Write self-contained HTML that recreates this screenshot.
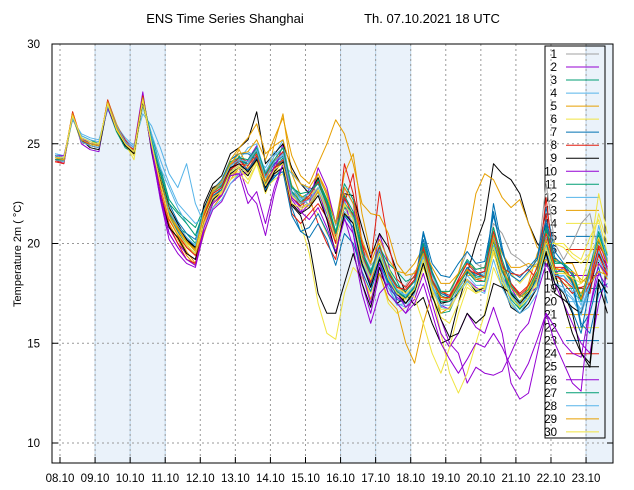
<!DOCTYPE html>
<html><head><meta charset="utf-8"><style>
html,body{margin:0;padding:0;background:#fff;}
svg{display:block;font-family:"Liberation Sans",sans-serif;}
</style></head><body>
<svg id="chart" width="634" height="490" viewBox="0 0 634 490" xmlns="http://www.w3.org/2000/svg">
<text x="225" y="23" font-size="13" text-anchor="middle">ENS Time Series Shanghai</text>
<text x="432" y="23" font-size="13" text-anchor="middle">Th. 07.10.2021 18 UTC</text>
<text transform="translate(21,254) rotate(-90)" font-size="11" text-anchor="middle">Temperature 2m ( °C)</text>
<g id="bg"></g><g id="grid"></g><g id="legend"></g><g id="lines"></g><g id="axes"></g>
</svg>
<script>
const dayLabels=["08.10","09.10","10.10","11.10","12.10","13.10","14.10","15.10","16.10","17.10","18.10","19.10","20.10","21.10","22.10","23.10"];
const yTicks=[10,15,20,25,30];
const shaded=[[1,3],[8,10],[15,15.77]];
const firstColor="#a0a0a0";
const colors=["#9400d3","#009e73","#56b4e9","#e69f00","#f0e442","#0072b2","#e51e10","#000000"];
const m1=[24.4,24.1,26.3,25.3,25.1,25.0,26.9,25.7,24.9,24.5,27.1,25.2,23.4,21.8,21.0,20.3,19.9,21.2,22.8,23.1,24.0,24.3,23.5,24.8,23.6,24.2,24.0,22.8,22.4,21.9,23.3,22.5,20.9,21.8,21.0,19.8,18.9,19.4,18.2,17.5,17.9,18.6,19.0,17.6,16.8,17.4,18.5,19.6,19.0,18.7,21.0,20.5,19.5,19.2,18.8,19.0,23.0,20.0,19.2,20.0,21.0,21.5,19.5,18.8];
const m2=[24.2,24.0,26.5,25.0,24.7,24.6,27.1,25.9,25.2,24.8,27.6,24.6,22.3,20.5,19.8,19.2,19.0,21.0,22.0,22.5,23.5,23.5,24.2,24.9,22.8,23.6,25.0,22.0,21.5,22.8,22.6,21.6,20.0,22.8,22.0,19.0,18.0,20.5,19.0,17.0,16.5,17.5,19.9,17.5,16.2,15.0,14.5,13.0,13.8,13.5,13.4,13.6,14.5,15.5,16.0,17.5,19.0,18.0,17.0,16.0,15.0,14.5,17.0,18.5];
const m3=[24.3,24.3,26.3,25.4,25.2,25.0,26.8,25.6,24.8,24.5,27.0,25.5,23.8,22.2,21.6,21.2,20.8,21.8,22.3,22.6,23.6,24.4,23.6,24.3,23.4,23.8,24.1,22.9,22.3,22.5,23.2,22.2,20.6,21.8,21.5,19.6,18.3,19.5,18.8,18.1,17.2,17.7,19.2,17.3,16.5,16.6,17.6,18.2,17.6,17.8,20.3,18.8,17.2,16.7,17.5,18.9,20.7,18.6,18.0,17.5,17.2,18.8,20.5,19.2];
const m4=[24.5,24.4,26.2,25.5,25.3,25.2,26.7,25.9,25.3,24.9,26.5,25.9,24.8,23.5,22.8,24.0,22.0,21.0,22.1,22.9,23.9,24.2,24.8,25.0,23.4,24.4,25.2,22.6,22.3,21.9,22.7,21.8,20.3,21.6,21.0,19.0,18.2,19.2,17.8,16.9,17.0,17.5,19.6,18.4,17.4,17.2,17.9,18.8,18.3,18.5,20.5,18.9,17.6,16.9,17.9,18.6,20.3,18.2,18.4,17.6,16.5,18.0,20.5,19.5];
const m5=[24.2,24.2,26.6,25.1,24.9,24.8,27.2,26.0,25.1,24.4,27.4,24.8,22.6,21.0,20.2,19.4,18.9,21.2,22.6,23.0,23.9,24.7,23.8,24.2,23.0,25.0,26.5,23.5,22.4,22.2,23.5,22.6,21.0,23.5,24.5,21.5,19.5,20.0,18.4,17.7,17.0,17.5,19.2,17.9,16.5,16.8,17.8,18.4,18.4,18.6,20.8,19.0,17.5,16.8,18.0,19.5,20.6,18.8,18.6,18.0,17.5,18.3,19.8,18.5];
const m6=[24.3,24.3,26.4,25.3,25.0,25.0,27.0,25.7,25.0,24.2,27.2,24.9,22.8,21.5,20.8,20.0,19.8,21.6,22.4,22.5,23.5,23.6,23.4,24.2,22.8,23.5,23.6,21.5,21.0,19.5,17.0,15.5,15.2,17.5,18.8,18.3,17.5,18.5,17.0,16.5,16.8,17.2,18.8,17.6,15.5,13.5,12.5,13.5,15.0,16.5,18.8,17.8,17.0,16.5,17.0,18.0,19.5,18.2,18.0,17.8,18.0,19.5,22.5,20.5];
const m7=[24.4,24.2,26.4,25.2,25.0,24.9,27.0,25.8,24.9,24.6,27.3,25.0,23.2,21.5,20.8,20.3,19.8,21.5,22.6,22.9,23.8,24.1,24.0,24.6,23.3,24.0,24.4,22.6,21.8,22.0,22.7,21.5,20.2,21.9,21.3,19.2,18.2,19.5,18.1,17.4,17.3,17.8,20.5,18.6,17.6,17.3,18.2,19.1,18.6,18.3,22.0,19.8,18.0,17.4,17.2,17.8,21.0,18.8,17.8,16.6,15.5,17.8,18.8,17.0];
const m8=[24.1,24.1,26.5,25.1,25.0,24.9,27.1,25.8,25.0,24.7,27.4,25.1,22.9,21.3,20.4,19.8,19.5,21.3,22.3,22.7,23.7,24.0,23.9,24.5,23.1,23.8,24.0,22.3,21.9,22.3,21.0,20.0,19.2,22.0,23.5,20.0,18.0,19.7,18.5,17.8,17.6,18.2,19.7,18.2,17.2,17.1,17.9,18.6,18.2,18.1,19.5,18.6,18.0,17.4,17.8,18.2,21.5,18.4,18.2,17.8,17.8,17.5,19.8,18.7];
const m9=[24.3,24.2,26.3,25.2,24.8,24.7,26.9,25.7,25.0,24.6,27.1,25.2,23.5,21.8,21.0,20.2,19.7,22.0,23.0,23.4,24.5,24.8,25.2,26.6,24.0,24.5,25.0,23.8,23.0,22.5,23.3,21.8,20.3,22.5,22.4,20.8,19.3,20.5,19.8,18.6,17.5,16.9,17.3,16.0,15.0,15.2,17.0,18.5,20.0,21.2,24.0,23.5,23.2,22.5,21.0,20.0,19.5,18.5,17.0,15.5,14.5,13.8,18.0,16.5];
const m10=[24.4,24.3,26.4,25.3,25.1,25.0,26.8,25.7,25.0,24.5,27.5,24.9,22.5,20.8,20.0,19.5,19.2,21.0,22.1,22.4,23.4,23.8,22.5,22.0,20.4,22.5,24.0,22.0,21.5,22.0,23.8,22.8,21.0,22.2,20.5,18.0,16.5,18.5,17.8,17.3,17.0,17.6,19.3,17.8,16.9,16.7,17.5,18.2,17.8,17.6,19.8,18.3,17.8,17.0,17.5,17.8,20.2,18.5,18.8,18.5,17.2,18.4,20.2,18.8];
const m11=[24.2,24.2,26.4,25.2,25.0,24.9,27.0,25.8,25.0,24.6,27.3,25.0,23.0,21.5,20.8,20.5,20.0,21.5,22.4,22.7,23.6,23.9,23.7,24.3,23.0,23.8,24.3,22.4,22.1,22.4,23.2,22.2,21.0,23.0,22.2,19.7,18.3,19.8,19.0,18.6,18.1,18.3,19.6,18.2,17.4,17.2,17.9,18.8,18.3,18.4,20.2,19.0,17.5,16.7,17.2,18.5,20.6,19.1,19.0,18.6,17.3,18.6,20.4,19.2];
const m12=[24.5,24.4,26.2,25.4,25.2,25.1,26.9,25.9,25.2,24.8,26.8,25.5,24.2,23.0,22.0,21.5,21.0,21.3,22.5,23.0,24.2,24.5,24.6,24.3,23.8,24.6,24.0,23.5,23.0,22.7,22.5,21.6,20.5,21.5,20.8,19.6,18.7,19.4,17.8,17.0,16.8,17.5,19.0,17.9,17.0,17.1,17.9,18.6,18.2,18.4,20.3,18.2,17.1,16.5,16.8,17.5,19.8,18.0,17.8,17.3,16.7,18.0,19.2,18.3];
const m13=[24.3,24.3,26.5,25.2,25.0,24.9,27.1,25.8,25.1,24.6,27.3,25.0,23.1,21.2,20.4,19.6,19.0,20.5,21.8,22.4,23.2,23.8,24.0,24.6,23.1,24.2,24.8,22.9,22.0,21.8,22.6,21.7,20.1,22.5,21.2,18.5,17.2,18.5,17.2,16.7,15.0,14.0,16.0,17.5,17.5,17.6,18.5,20.0,22.5,23.5,23.2,22.3,21.8,22.2,21.0,19.8,19.5,19.2,19.0,19.0,18.0,18.5,19.0,18.2];
const m14=[24.2,24.1,26.3,25.1,24.9,25.0,26.9,25.9,25.0,24.5,27.1,25.2,23.3,21.7,20.7,20.0,19.4,21.3,22.2,22.5,23.2,23.5,23.0,24.0,22.5,23.6,23.8,22.0,21.7,22.0,21.5,20.5,19.8,21.5,21.3,19.3,18.4,19.6,18.8,17.8,17.5,17.9,19.0,17.5,16.3,16.0,17.0,18.0,17.5,17.9,19.5,18.7,18.5,18.0,18.5,19.0,20.5,20.0,19.8,19.3,19.0,19.5,20.3,19.0];
const m15=[24.4,24.3,26.4,25.3,25.1,25.0,27.0,25.7,25.0,24.7,27.2,25.3,23.6,22.0,21.1,20.5,20.2,21.8,22.7,23.2,24.2,24.5,24.5,24.2,22.8,23.3,23.8,21.8,20.6,20.3,21.0,20.2,18.9,20.5,20.0,18.6,17.6,19.0,18.0,17.2,17.0,17.7,20.2,18.6,17.5,17.3,18.0,18.8,18.4,18.6,21.6,19.5,18.6,18.3,18.8,19.3,21.8,19.6,19.0,18.0,15.8,16.5,18.2,17.5];
const m16=[24.1,24.0,26.6,25.2,24.9,24.8,27.2,25.9,25.2,24.6,27.4,24.8,22.6,20.9,20.0,19.2,19.0,21.0,22.5,22.8,23.7,24.2,23.7,24.4,22.9,23.8,24.2,21.5,21.0,21.5,22.0,21.3,20.0,24.0,22.5,20.0,19.0,22.6,20.0,18.2,17.8,18.4,19.8,18.5,17.6,17.4,18.1,18.7,18.5,18.3,19.6,18.8,18.5,18.4,18.7,18.2,22.3,18.5,18.0,17.5,17.8,18.0,19.9,19.2];
const m17=[24.3,24.2,26.4,25.1,24.9,24.8,27.0,25.8,25.0,24.6,27.3,24.7,22.4,20.8,20.3,19.5,19.2,21.3,22.2,22.6,23.5,23.8,23.4,24.2,22.6,23.6,24.1,21.9,21.4,20.0,17.5,16.5,16.5,18.0,19.5,18.0,16.8,18.8,17.5,17.0,17.3,17.6,19.0,17.8,17.0,17.1,17.5,18.2,17.6,17.8,19.8,18.0,16.8,16.5,17.0,17.8,19.6,17.5,17.2,16.8,16.5,17.8,19.5,18.6];
const m18=[24.4,24.4,26.3,25.3,25.0,25.0,26.9,25.8,25.1,24.6,27.2,24.8,22.2,20.2,19.5,19.0,18.8,20.6,21.7,22.1,23.0,23.4,23.6,24.2,22.7,23.9,24.6,22.3,21.8,22.0,22.8,21.2,19.5,21.3,19.8,17.5,16.0,17.5,18.0,17.5,16.8,17.2,18.5,17.0,15.5,14.8,15.5,16.5,15.8,15.5,16.8,15.5,13.0,12.2,12.5,14.5,16.5,15.8,15.0,14.5,14.3,16.8,19.0,18.4];
const m19=[24.3,24.2,26.4,25.2,25.0,24.9,27.0,25.8,25.0,24.6,27.3,25.0,23.0,21.4,20.7,20.1,19.7,21.6,22.6,22.9,23.9,24.2,24.0,24.6,23.3,24.1,24.6,22.6,22.1,22.4,23.1,22.1,20.6,22.4,21.6,19.6,18.6,19.9,18.6,17.9,17.6,18.1,19.6,18.1,17.1,17.1,17.9,18.6,18.1,18.1,20.1,18.6,17.6,17.1,17.6,18.4,20.1,18.6,18.6,18.1,17.1,18.6,20.1,19.1];
const m20=[24.2,24.1,26.5,25.1,24.9,24.8,27.1,25.9,25.1,24.7,27.0,25.3,23.8,22.8,21.8,21.0,20.4,20.8,21.8,22.2,23.0,23.5,24.0,24.8,23.6,24.4,24.8,22.8,22.2,22.5,23.0,21.9,20.4,22.1,21.2,19.2,18.3,19.6,18.3,17.6,17.4,17.9,19.3,17.8,16.8,16.7,17.5,18.1,17.7,17.5,19.2,17.8,16.9,16.5,17.2,17.8,19.4,18.0,17.6,17.2,16.4,17.9,19.6,18.6];
const m21=[24.4,24.3,26.4,25.3,25.1,25.0,27.0,25.7,25.0,24.6,27.2,25.0,23.2,21.6,20.8,20.1,19.6,21.5,22.6,23.0,24.2,24.8,25.3,26.0,24.5,24.9,25.2,23.6,23.0,22.8,23.5,22.4,21.0,22.8,22.0,20.2,19.0,20.2,19.2,18.6,18.5,19.0,19.8,18.8,18.0,18.0,18.5,19.0,18.7,18.8,20.4,19.5,18.8,18.8,19.0,18.8,19.2,18.5,18.5,18.6,18.2,18.0,18.6,18.4];
const m22=[24.3,24.3,26.4,25.2,25.0,25.0,27.0,25.8,25.0,24.4,27.0,25.0,23.0,21.2,20.5,19.8,19.4,21.0,22.0,22.6,23.4,23.8,23.2,24.0,22.8,23.2,23.5,22.4,22.0,22.4,22.8,21.8,20.4,21.9,21.5,19.3,18.2,19.6,18.2,17.8,17.5,17.3,16.0,14.5,13.5,14.8,16.5,17.8,17.5,17.7,19.6,18.0,17.3,17.0,17.8,18.8,20.0,20.0,20.0,19.5,19.2,20.3,21.2,19.5];
const m23=[24.3,24.2,26.4,25.2,25.0,24.9,27.0,25.8,25.0,24.6,27.3,25.1,23.1,21.4,20.6,19.9,19.5,21.4,22.4,22.7,23.6,23.9,23.7,24.3,22.7,23.4,23.6,21.4,20.6,20.8,21.5,20.6,19.5,21.4,20.8,18.9,17.9,19.3,18.1,17.5,17.3,17.9,20.6,19.0,18.4,18.3,19.0,19.6,19.0,19.1,21.4,19.6,18.4,18.1,18.6,19.2,21.2,19.3,18.9,18.1,16.0,15.5,17.5,18.0];
const m24=[24.2,24.2,26.5,25.2,25.0,24.9,27.0,25.8,25.0,24.7,27.4,25.0,22.9,21.2,20.5,19.8,19.4,21.4,22.5,22.8,23.9,24.3,24.1,24.7,23.4,24.1,24.6,22.5,22.0,22.4,23.1,21.9,20.3,22.3,21.4,19.4,18.4,19.8,18.5,17.8,17.7,18.2,19.8,18.2,17.3,17.3,18.2,19.0,18.5,18.6,20.6,19.0,18.0,17.5,17.9,18.8,20.5,18.8,18.8,18.2,17.2,18.0,19.4,18.4];
const m25=[24.4,24.3,26.3,25.3,25.1,25.0,26.9,25.7,24.9,24.5,27.1,25.1,23.2,21.6,20.9,20.2,19.8,21.8,22.8,23.0,23.8,24.0,23.6,24.2,22.8,23.5,23.8,22.0,21.5,21.8,22.4,21.2,19.5,21.5,21.0,19.0,17.8,19.2,18.2,17.5,17.0,17.6,19.0,17.4,16.2,15.3,15.5,16.5,16.0,16.4,18.0,17.8,17.5,17.0,17.5,18.2,19.5,18.0,17.5,16.5,14.5,14.0,18.2,17.5];
const m26=[24.3,24.3,26.4,25.2,25.0,24.9,27.0,25.8,25.0,24.6,27.3,24.9,22.5,20.5,19.8,19.2,18.9,20.8,22.0,22.4,23.4,23.5,22.0,22.6,21.0,22.8,24.0,22.2,21.6,21.2,21.8,20.8,19.6,21.2,20.5,18.5,17.0,19.0,17.5,17.0,16.5,17.0,18.0,16.5,15.0,14.2,13.5,14.2,15.0,14.8,15.5,14.8,13.8,13.2,14.0,15.2,16.5,15.0,14.0,13.0,12.6,16.8,18.5,17.8];
const m27=[24.2,24.2,26.4,25.2,25.0,24.9,27.0,25.8,25.0,24.6,27.3,25.2,23.5,22.0,21.5,21.0,20.4,21.7,22.7,23.1,24.1,24.3,24.2,24.8,23.5,24.2,24.8,22.8,22.5,22.6,23.0,22.0,20.5,22.0,21.5,19.6,18.5,19.6,18.4,17.6,17.3,17.8,20.0,18.5,17.6,17.6,18.4,19.2,18.7,18.8,20.8,19.2,17.9,17.3,17.7,18.6,20.8,19.0,19.0,18.4,17.3,18.8,20.6,19.4];
const m28=[24.4,24.3,26.3,25.3,25.1,25.0,26.9,25.8,25.0,24.6,27.2,25.1,23.1,21.6,20.9,20.3,19.9,21.7,22.7,23.0,23.9,24.2,24.1,24.7,23.3,24.1,24.5,22.5,22.0,22.2,22.8,21.7,20.2,22.0,21.3,19.3,18.3,19.7,18.4,17.7,17.4,17.9,19.4,17.9,16.9,16.9,17.7,18.4,17.9,17.9,19.9,18.4,17.4,16.9,17.4,18.2,19.9,18.4,18.4,17.9,16.9,18.4,20.9,19.2];
const m29=[24.3,24.2,26.5,25.2,25.0,24.9,27.1,25.8,25.0,24.6,27.3,25.0,23.1,21.4,20.7,20.1,19.7,21.6,22.7,23.1,24.0,24.5,24.6,25.2,24.2,25.3,26.3,24.4,23.4,23.0,24.0,25.0,26.2,25.5,24.0,22.0,21.5,21.4,20.5,19.0,18.4,18.5,19.5,18.0,17.3,17.2,18.0,18.7,18.2,18.3,20.2,18.8,17.8,17.3,17.6,18.5,20.2,18.7,18.7,18.2,17.2,18.7,20.2,19.0];
const m30=[24.3,24.3,26.4,25.3,25.1,25.0,27.0,25.7,25.0,24.6,27.2,25.0,23.0,21.3,20.5,19.9,19.5,21.3,22.3,22.6,23.6,23.9,23.5,24.1,22.9,23.7,24.0,22.0,21.8,22.0,22.7,21.6,20.2,22.0,21.2,19.2,18.2,19.5,18.2,17.5,17.2,17.7,19.2,17.7,16.7,16.7,17.5,18.2,17.7,17.8,19.8,18.3,17.3,16.8,17.3,18.1,19.8,18.5,18.5,18.3,18.0,19.5,21.5,20.0];
const members=[m1,m2,m3,m4,m5,m6,m7,m8,m9,m10,m11,m12,m13,m14,m15,m16,m17,m18,m19,m20,m21,m22,m23,m24,m25,m26,m27,m28,m29,m30];

const NS="http://www.w3.org/2000/svg";
const L=52,R=613,T=44,B=463;
const xScale=d=>60+35.07*d;
const yScale=v=>44+(30-v)*19.95;
const tOf=i=>-0.14+0.25*i;
const colorOf=k=>k===0?firstColor:colors[(k-1)%8];
function mk(tag,attrs,parent){const e=document.createElementNS(NS,tag);for(const k in attrs)e.setAttribute(k,attrs[k]);parent.appendChild(e);return e;}
const bg=document.getElementById('bg'),grid=document.getElementById('grid'),lg=document.getElementById('legend'),ln=document.getElementById('lines'),ax=document.getElementById('axes');

shaded.forEach((s,k)=>{
  const x1=xScale(s[0]),x2=Math.min(xScale(s[1]),R);
  const r=mk('rect',{x:x1,y:T,width:x2-x1,height:B-T,fill:'#eaf2fa',stroke:'none'},bg);
  
  
  [x1,x2].forEach(xx=>{if(xx<R){const l=mk('line',{x1:xx,x2:xx,y1:T,y2:B,stroke:'#bcd6ec','stroke-width':1},bg);}});
  if(s[1]-s[0]>1.5){const xm=xScale(s[0]+1);const l=mk('line',{x1:xm,x2:xm,y1:T,y2:B,stroke:'#bcd6ec','stroke-width':1},bg);}
});

dayLabels.forEach((lab,i)=>{
  const x=xScale(i);
  const g=mk('line',{x1:x,x2:x,y1:T,y2:B,stroke:'#999','stroke-width':1,'stroke-dasharray':'2,3'},grid);
  
  
  const t=mk('line',{x1:x,x2:x,y1:B,y2:B-6,stroke:'#000'},ax);
  
  
  const tx=mk('text',{x:x,y:482,'font-size':11.5,'text-anchor':'middle'},ax);
  tx.textContent=lab;
  
  
});
yTicks.forEach(v=>{
  const y=yScale(v);
  const g=mk('line',{x1:L,x2:R,y1:y,y2:y,stroke:'#999','stroke-width':1,'stroke-dasharray':'2,3'},grid);
  
  
  const t1=mk('line',{x1:L,x2:L+6,y1:y,y2:y,stroke:'#000'},ax);
  
  
  const t2=mk('line',{x1:R,x2:R-6,y1:y,y2:y,stroke:'#000'},ax);
  
  
  const tx=mk('text',{x:40,y:y+4,'font-size':11.5,'text-anchor':'end'},ax);
  tx.textContent=v;
  
  
});
const frame=mk('rect',{x:L,y:T,width:R-L,height:B-T,fill:'none',stroke:'#000','stroke-width':1},ax);



const box=mk('rect',{x:545,y:46,width:60,height:392,fill:'none',stroke:'#000','stroke-width':1},lg);


members.forEach((m,k)=>{
  const y=54+k*13.03;
  const c=colorOf(k);
  const t=mk('text',{x:557,y:y+4,'font-size':11.5,'text-anchor':'end'},lg);
  t.textContent=(k+1);
  
  
  const l=mk('line',{x1:566,x2:599,y1:y,y2:y,stroke:c,'stroke-width':1},lg);
  
  
});
members.forEach((m,k)=>{
  const pts=m.map((v,i)=>Math.min(xScale(tOf(i)),R).toFixed(1)+','+yScale(v).toFixed(1)).join(' ');
  const p=mk('polyline',{points:pts,fill:'none',stroke:colorOf(k),'stroke-width':1,'stroke-linejoin':'round'},ln);
  
  
});
</script>
</body></html>
